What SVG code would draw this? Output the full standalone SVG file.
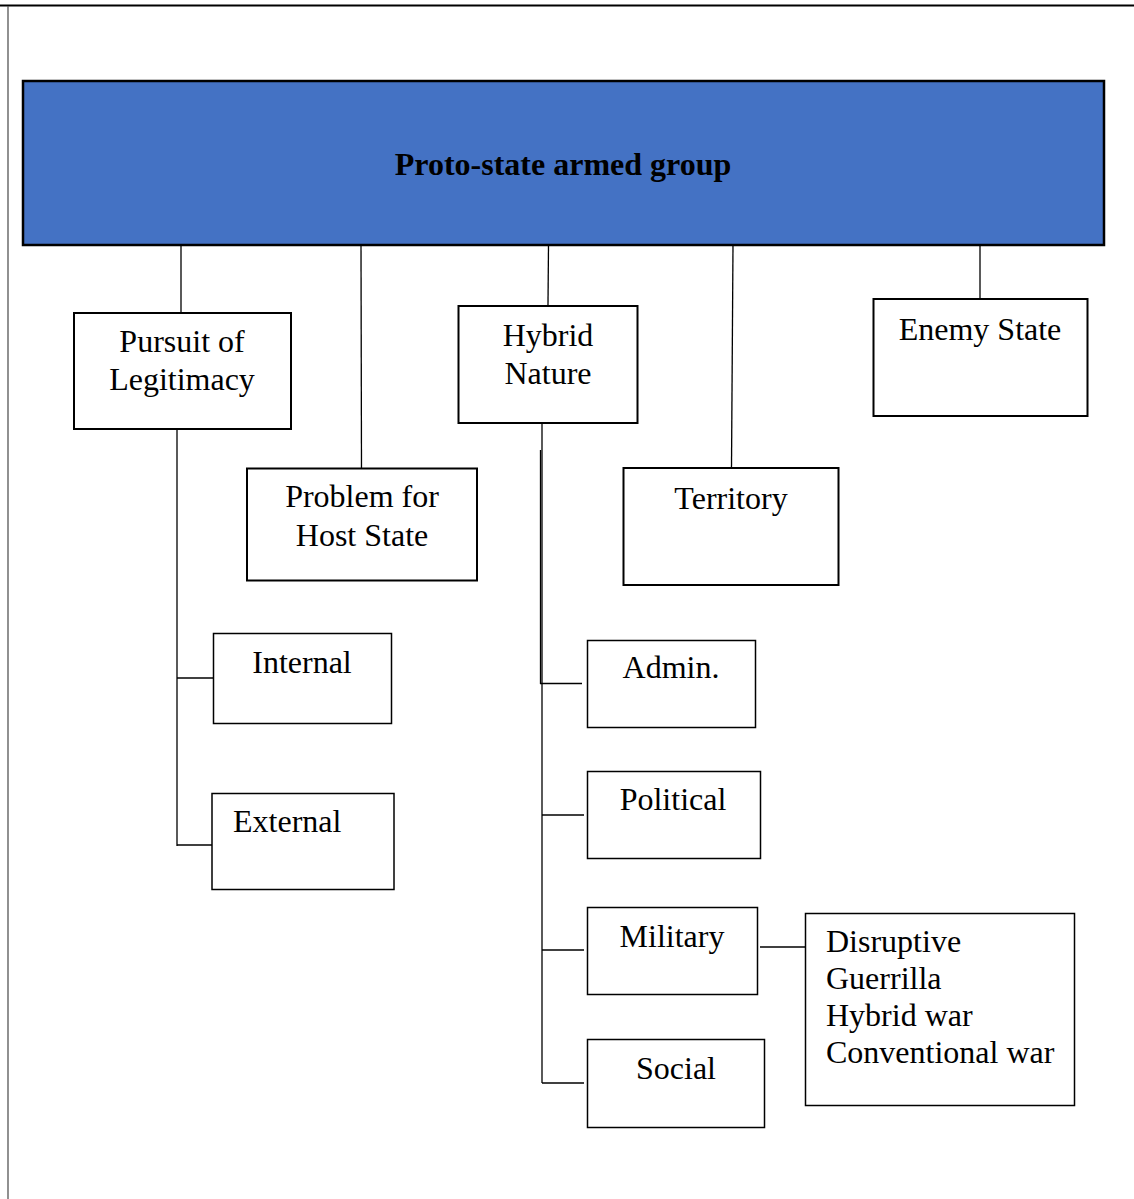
<svg xmlns="http://www.w3.org/2000/svg" width="1134" height="1199" viewBox="0 0 1134 1199">
<style>
.box{fill:#fff;stroke:#000;stroke-width:2}
.thin{fill:#fff;stroke:#000;stroke-width:1.5}
.t{font-family:"Liberation Serif","Times New Roman",serif;font-size:32px;fill:#000}
.c{text-anchor:middle}
.ln{stroke:#000;stroke-width:1.3;fill:none}
</style>
<rect width="1134" height="1199" fill="#fff"/>
<line x1="0" y1="5.5" x2="1134" y2="5.5" stroke="#000" stroke-width="2"/>
<line x1="8" y1="6" x2="8" y2="1199" stroke="#555" stroke-width="1.3"/>
<g id="connectors">
<line class="ln" x1="181" y1="245" x2="181" y2="312"/>
<line class="ln" x1="361" y1="245" x2="361.5" y2="468"/>
<line class="ln" x1="548.5" y1="245" x2="548" y2="305"/>
<line class="ln" x1="733" y1="245" x2="731.5" y2="467"/>
<line class="ln" x1="980" y1="245" x2="980" y2="298" stroke-width="2"/>
<line class="ln" x1="177" y1="429" x2="177" y2="846"/>
<line class="ln" x1="177" y1="678" x2="213" y2="678"/>
<line class="ln" x1="177" y1="845" x2="212" y2="845"/>
<line class="ln" x1="542" y1="423" x2="542" y2="1083"/>
<line class="ln" x1="540.5" y1="450" x2="540.5" y2="684" stroke-width="2"/>
<line class="ln" x1="540" y1="683.5" x2="582" y2="683.5"/>
<line class="ln" x1="542" y1="815" x2="584" y2="815"/>
<line class="ln" x1="542" y1="950" x2="584" y2="950"/>
<line class="ln" x1="542" y1="1083" x2="584" y2="1083"/>
<line class="ln" x1="760" y1="947" x2="805" y2="947"/>
</g>
<g id="root">
<rect x="23" y="81" width="1081" height="164" fill="#4472C4" stroke="#000" stroke-width="2.5"/>
<text class="t c" x="563" y="175" font-weight="bold">Proto-state armed group</text>
</g>
<g id="pursuit">
<rect class="box" x="74" y="313" width="217" height="116"/>
<text class="t c" x="182" y="352">Pursuit of</text>
<text class="t c" x="182" y="390">Legitimacy</text>
</g>
<g id="problem">
<rect class="box" x="247" y="468.5" width="230" height="112"/>
<text class="t c" x="362" y="507">Problem for</text>
<text class="t c" x="362" y="546">Host State</text>
</g>
<g id="hybrid">
<rect class="box" x="458.5" y="306" width="179" height="117"/>
<text class="t c" x="548" y="346">Hybrid</text>
<text class="t c" x="548" y="384">Nature</text>
</g>
<g id="enemy">
<rect class="box" x="873.5" y="299" width="214" height="117"/>
<text class="t c" x="980" y="340">Enemy State</text>
</g>
<g id="territory">
<rect class="box" x="623.5" y="468" width="215" height="117"/>
<text class="t c" x="731" y="509">Territory</text>
</g>
<g id="internal">
<rect class="thin" x="213.5" y="633.5" width="178" height="90"/>
<text class="t c" x="302" y="673">Internal</text>
</g>
<g id="external">
<rect class="thin" x="212" y="793.5" width="182" height="96"/>
<text class="t" x="233" y="832">External</text>
</g>
<g id="admin">
<rect class="thin" x="587.5" y="640.5" width="168" height="87"/>
<text class="t c" x="671" y="678">Admin.</text>
</g>
<g id="political">
<rect class="thin" x="587.5" y="771.5" width="173" height="87"/>
<text class="t c" x="673" y="810">Political</text>
</g>
<g id="military">
<rect class="thin" x="587.5" y="907.5" width="170" height="87"/>
<text class="t c" x="672" y="947">Military</text>
</g>
<g id="social">
<rect class="thin" x="587.5" y="1039.5" width="177" height="88"/>
<text class="t c" x="676" y="1079">Social</text>
</g>
<g id="warfare">
<rect class="thin" x="805.5" y="913.5" width="269" height="192"/>
<text class="t" x="826" y="952">Disruptive</text>
<text class="t" x="826" y="989">Guerrilla</text>
<text class="t" x="826" y="1026">Hybrid war</text>
<text class="t" x="826" y="1063">Conventional war</text>
</g>
</svg>
